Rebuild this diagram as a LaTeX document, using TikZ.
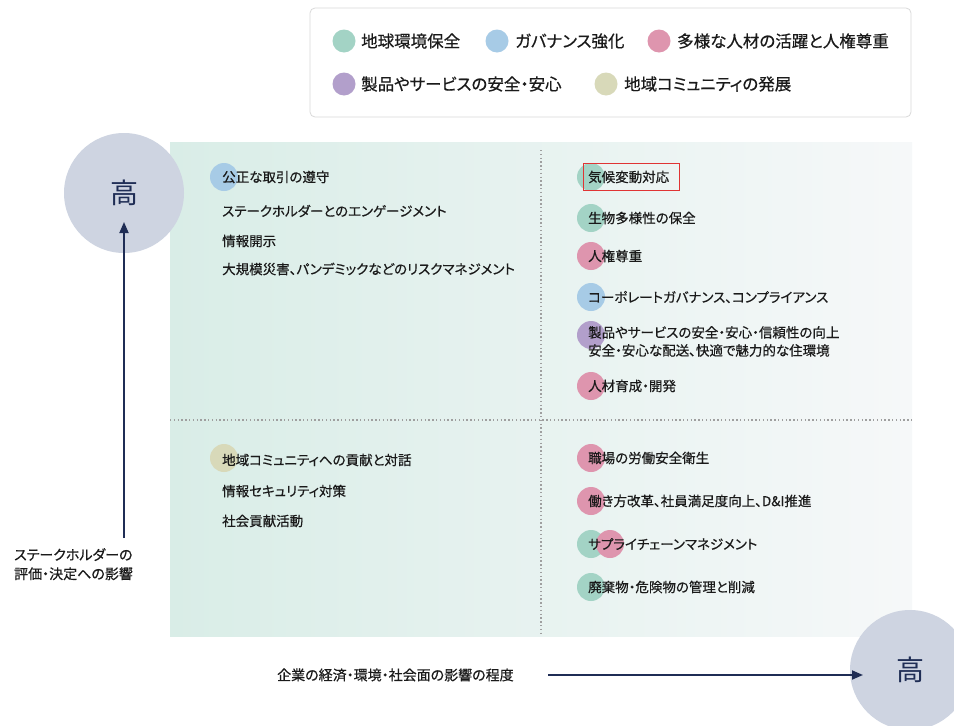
\documentclass[tikz,border=0pt]{standalone}
\usepackage{fontspec}
\setmainfont{Noto Sans CJK JP}[RawFeature=+palt, FakeBold=0.5]
\newfontfamily\hifont{Noto Sans CJK JP}
\usetikzlibrary{arrows.meta}
\definecolor{cGreen}{HTML}{A3D3C5}
\definecolor{cBlue}{HTML}{A7CBE6}
\definecolor{cPink}{HTML}{DE95AE}
\definecolor{cPurple}{HTML}{B29FCB}
\definecolor{cBeige}{HTML}{D8D9B9}
\definecolor{hiFill}{HTML}{CED4E1}
\definecolor{navy}{HTML}{1F2D55}
\definecolor{bgL}{HTML}{D9EDE7}
\definecolor{bgR}{HTML}{F6F8F9}
\definecolor{txt}{HTML}{1A1A1A}
\definecolor{boxRed}{HTML}{E03434}
\tikzset{
  item/.style={anchor=west, inner sep=0pt, font=\fontsize{13.5}{18}\selectfont, text=txt},
  axlabel/.style={anchor=west, inner sep=0pt, font=\fontsize{14}{19}\selectfont, text=txt},
  legtext/.style={anchor=west, inner sep=0pt, font=\fontsize{16.5}{19}\selectfont, text=txt},
  dot/.style={circle, inner sep=0pt, minimum size=28pt},
  ldot/.style={circle, inner sep=0pt, minimum size=23pt},
  divider/.style={draw=gray!75, line width=1.3pt, dash pattern=on 1.3pt off 2.5pt},
  axis/.style={draw=navy, line width=1.8pt},
  hi/.style={circle, fill=hiFill, inner sep=0pt, minimum size=120pt, text=navy, font=\hifont\fontsize{28}{30}\selectfont},
}
\begin{document}
\begin{tikzpicture}[x=1pt,y=-1pt]
\path[use as bounding box] (0,0) rectangle (954,726);
\clip (0,0) rectangle (954,726);
\fill[white] (0,0) rectangle (954,726);

% legend
\draw[draw=gray!30, line width=0.8pt, rounded corners=5pt, fill=white] (310,8) rectangle (911,117);
\node[ldot, fill=cGreen] (lg1) at (344,41) {};
\node[legtext] (lt1) at (361,41) {地球環境保全};
\node[ldot, fill=cBlue] (lg2) at (497,41) {};
\node[legtext] (lt2) at (515,41) {ガバナンス強化};
\node[ldot, fill=cPink] (lg3) at (659,41) {};
\node[legtext] (lt3) at (677,41) {多様な人材の活躍と人権尊重};
\node[ldot, fill=cPurple] (lg4) at (344,84) {};
\node[legtext] (lt4) at (361,84) {製品やサービスの安全・安心};
\node[ldot, fill=cBeige] (lg5) at (606,84) {};
\node[legtext] (lt5) at (624,84) {地域コミュニティの発展};

% background panel
\shade[left color=bgL, right color=bgR] (170,142) rectangle (912,636);
\draw[divider] (541,150) -- (541,634);
\draw[divider] (170,420) -- (912,420);

% circles
\node[hi] (hiL) at (124,193) {高};
\node[hi] (hiR) at (910,670) {高};

% axes
\coordinate (vbase) at (124,538);
\coordinate (vtip) at (124,222);
\draw[axis, -{Triangle[length=11pt,width=9pt]}] (vbase) -- (vtip);
\coordinate (hbase) at (548,675);
\coordinate (htip) at (863,675);
\draw[axis, -{Triangle[length=11pt,width=9pt]}] (hbase) -- (htip);

\node[axlabel, anchor=north west, align=left] (ylab) at (14,548) {ステークホルダーの\\評価・決定への影響};
\node[axlabel] (xlab) at (277,675) {企業の経済・環境・社会面の影響の程度};

% top-left quadrant
\node[dot, fill=cBlue] (d1) at (224,177) {};
\node[item] (t1) at (222,177) {公正な取引の遵守};
\node[item] (t2) at (222,211) {ステークホルダーとのエンゲージメント};
\node[item] (t3) at (222,241) {情報開示};
\node[item] (t4) at (222,269) {大規模災害、パンデミックなどのリスクマネジメント};

% top-right quadrant
\node[dot, fill=cGreen] (d5) at (591,177) {};
\node[item] (t5) at (588,177) {気候変動対応};
\draw[draw=boxRed, line width=0.9pt] (583,163) rectangle (679,190);
\node[dot, fill=cGreen] (d6) at (591,218) {};
\node[item] (t6) at (588,218) {生物多様性の保全};
\node[dot, fill=cPink] (d7) at (591,256) {};
\node[item] (t7) at (588,256) {人権尊重};
\node[dot, fill=cBlue] (d8) at (591,297) {};
\node[item] (t8) at (588,297) {コーポレートガバナンス、コンプライアンス};
\node[dot, fill=cPurple] (d9) at (591,335) {};
\node[item, anchor=north west, align=left] (t9) at (588,326) {製品やサービスの安全・安心・信頼性の向上\\安全・安心な配送、快適で魅力的な住環境};
\node[dot, fill=cPink] (d10) at (591,386) {};
\node[item] (t10) at (588,386) {人材育成・開発};

% bottom-left quadrant
\node[dot, fill=cBeige] (d11) at (224,458) {};
\node[item] (t11) at (222,460) {地域コミュニティへの貢献と対話};
\node[item] (t12) at (222,491) {情報セキュリティ対策};
\node[item] (t13) at (222,521) {社会貢献活動};

% bottom-right quadrant
\node[dot, fill=cPink] (d14) at (591,458) {};
\node[item] (t14) at (588,458) {職場の労働安全衛生};
\node[dot, fill=cPink] (d15) at (591,501) {};
\node[item] (t15) at (588,501) {働き方改革、社員満足度向上、D\&I推進};
\node[dot, fill=cGreen] (d16a) at (591,544) {};
\node[dot, fill=cPink] (d16b) at (610,544) {};
\node[item] (t16) at (588,544) {サプライチェーンマネジメント};
\node[dot, fill=cGreen] (d17) at (591,587) {};
\node[item] (t17) at (588,587) {廃棄物・危険物の管理と削減};
\end{tikzpicture}
\end{document}
